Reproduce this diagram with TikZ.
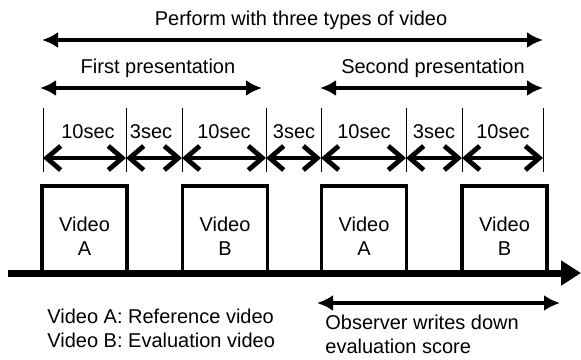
\documentclass[tikz,border=0pt]{standalone}
\usepackage{fontspec}
\setmainfont{Liberation Sans}
\usetikzlibrary{arrows.meta}
\begin{document}
\begin{tikzpicture}[x=0.5pt,y=-0.5pt,lbl/.style={font=\fontsize{10}{12}\selectfont,inner sep=0pt},span/.style={line width=2.4pt,{Latex[length=8pt,width=8pt]}-{Latex[length=8pt,width=8pt]}},seg/.style={line width=2.4pt,{Straight Barb[length=7pt,width=12pt,line width=2.4pt]}-{Straight Barb[length=7pt,width=12pt,line width=2.4pt]}},tick/.style={line width=0.5pt},vbox/.style={draw,line width=1.8pt,minimum width=42.5pt,minimum height=43.5pt,inner sep=0pt},vtext/.style={lbl,align=center},timeline/.style={line width=3.5pt,-{Triangle[length=10pt,width=12pt]}}]
\def\ytop{108};
\def\ybot{172};
\def\yseg{158};
\def\ylbl{132};

\useasboundingbox (0,0) rectangle (581,359);

% overall span
\node[lbl] (whole) at (301,20) {Perform with three types of video};
\coordinate (wL) at (42,40);
\coordinate (wR) at (543,40);
\draw[span] (wL) -- (wR);

% the two presentations
\node[lbl] (pres1) at (158,68) {First presentation};
\coordinate (p1L) at (40,88);
\coordinate (p1R) at (262,88);
\draw[span] (p1L) -- (p1R);
\node[lbl] (pres2) at (433,68) {Second presentation};
\coordinate (p2L) at (320,88);
\coordinate (p2R) at (543,88);
\draw[span] (p2L) -- (p2R);

% ticks
\draw[tick] (43,\ytop) -- (43,\ybot);
\draw[tick] (126,\ytop) -- (126,\ybot);
\draw[tick] (182,\ytop) -- (182,\ybot);
\draw[tick] (266,\ytop) -- (266,\ybot);
\draw[tick] (321,\ytop) -- (321,\ybot);
\draw[tick] (406,\ytop) -- (406,\ybot);
\draw[tick] (462,\ytop) -- (462,\ybot);
\draw[tick] (543,\ytop) -- (543,\ybot);

\coordinate (s1) at (43,\yseg);
\coordinate (s2) at (126,\yseg);
\coordinate (s3) at (182,\yseg);
\coordinate (s4) at (266,\yseg);
\coordinate (s5) at (321,\yseg);
\coordinate (s6) at (406,\yseg);
\coordinate (s7) at (462,\yseg);
\coordinate (s8) at (543,\yseg);

\node[lbl] (d1) at (88,\ylbl) {10sec};
\draw[seg] (s1) -- (s2);
\node[lbl] (d2) at (151,\ylbl) {3sec};
\draw[seg] (s2) -- (s3);
\node[lbl] (d3) at (224,\ylbl) {10sec};
\draw[seg] (s3) -- (s4);
\node[lbl] (d4) at (294,\ylbl) {3sec};
\draw[seg] (s4) -- (s5);
\node[lbl] (d5) at (364,\ylbl) {10sec};
\draw[seg] (s5) -- (s6);
\node[lbl] (d6) at (434,\ylbl) {3sec};
\draw[seg] (s6) -- (s7);
\node[lbl] (d7) at (503,\ylbl) {10sec};
\draw[seg] (s7) -- (s8);

% video boxes
\node[vbox] (vA1) at (84.5,229.5) {};
\node[vtext] (vA1t) at (84.5,236) {Video\\A};
\node[vbox] (vB1) at (225,229.5) {};
\node[vtext] (vB1t) at (225,236) {Video\\B};
\node[vbox] (vA2) at (364,229.5) {};
\node[vtext] (vA2t) at (364,236) {Video\\A};
\node[vbox] (vB2) at (504.5,229.5) {};
\node[vtext] (vB2t) at (504.5,236) {Video\\B};

% time axis
\coordinate (t0) at (8,273);
\coordinate (t1) at (581,273);
\draw[timeline] (t0) -- (t1);

% legend and scoring
\node[lbl,align=left,anchor=west] (legend) at (47,328.5) {Video A: Reference video\\Video B: Evaluation video};
\coordinate (oL) at (317,303);
\coordinate (oR) at (560,303);
\draw[span] (oL) -- (oR);
\node[lbl,align=left,anchor=west] (obs) at (325,334) {Observer writes down\\evaluation score};
\end{tikzpicture}
\end{document}
